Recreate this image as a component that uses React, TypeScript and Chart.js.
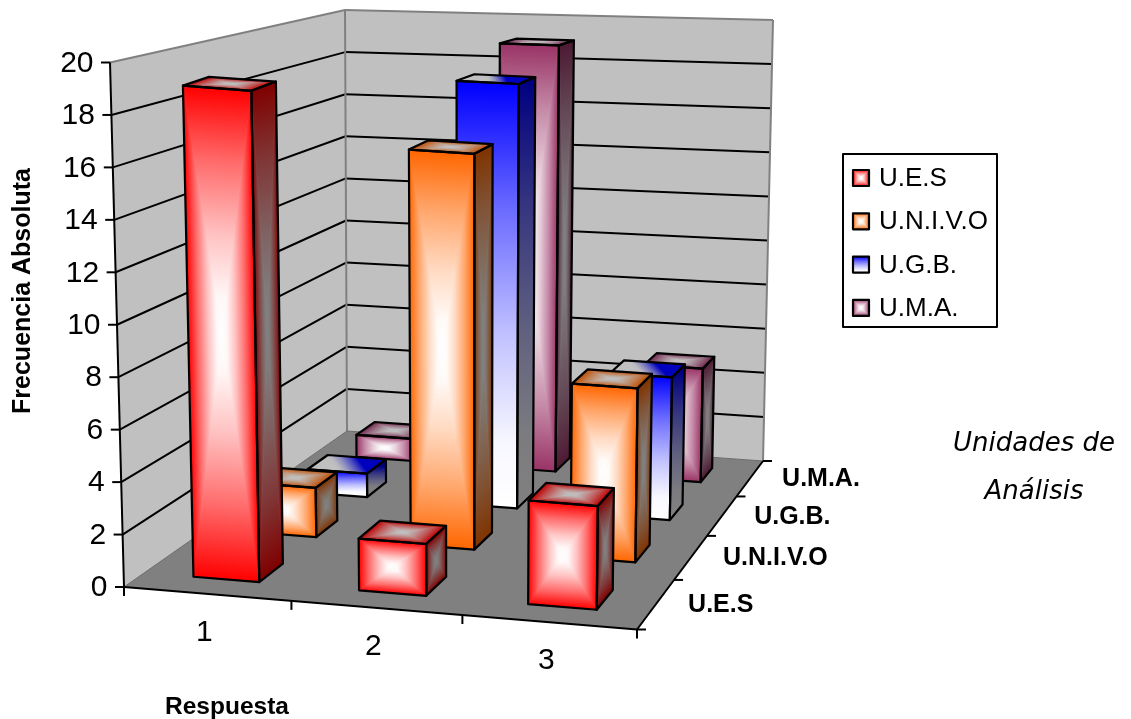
import React, { useEffect, useRef } from "react";
import { Chart, registerables } from "chart.js";

Chart.register(...registerables);

const categories = ["1", "2", "3"];
const seriesNames = ["U.E.S", "U.N.I.V.O", "U.G.B.", "U.M.A."];
const uesValues = [19, 2, 4];
const univoValues = [2, 16, 7];
const ugbValues = [1, 18, 6];
const umaValues = [1, 19, 5];
const seriesColors = ["#FF0000", "#FF6600", "#0000FF", "#993366"];
const seriesGradient = ["center", "center", "linear", "center"];
const yTitle = "Frecuencia Absoluta";
const xTitle = "Respuesta";
const zTitle = ["Unidades de", "Análisis"];

type P = [number, number];

// Plot geometry of the box: corners of its floor and the rise from floor to top at each corner
const FLOOR: P[] = [[124, 587], [637, 629.5], [763, 461], [347, 431]];
const RISE: P[] = [[-14, -524.5], [7, -525], [10, -441], [-2, -421]];

function homography(q: P[]) {
  const [p00, p10, p11, p01] = q;
  const dx1 = p10[0] - p11[0], dx2 = p01[0] - p11[0], sx = p00[0] - p10[0] + p11[0] - p01[0];
  const dy1 = p10[1] - p11[1], dy2 = p01[1] - p11[1], sy = p00[1] - p10[1] + p11[1] - p01[1];
  const den = dx1 * dy2 - dx2 * dy1;
  const g = (sx * dy2 - dx2 * sy) / den;
  const h = (dx1 * sy - sx * dy1) / den;
  const a = p10[0] - p00[0] + g * p10[0], b = p01[0] - p00[0] + h * p01[0], c = p00[0];
  const d = p10[1] - p00[1] + g * p10[1], e = p01[1] - p00[1] + h * p01[1], f = p00[1];
  return (X: number, Z: number): P => {
    const w = g * X + h * Z + 1;
    return [(a * X + b * Z + c) / w, (d * X + e * Z + f) / w];
  };
}

const floorMap = homography(FLOOR);
const project = (X: number, Y: number, Z: number): P => {
  const a = floorMap(X, Z);
  const rise = (k: number) =>
    (1 - X) * (1 - Z) * RISE[0][k] + X * (1 - Z) * RISE[1][k] + X * Z * RISE[2][k] + (1 - X) * Z * RISE[3][k];
  return [a[0] + rise(0) * Y, a[1] + rise(1) * Y];
};

function shade(hex: string, k: number) {
  const n = parseInt(hex.slice(1), 16);
  const ch = (s: number) => Math.round(((n >> s) & 255) * k);
  return `rgb(${ch(16)},${ch(8)},${ch(0)})`;
}

function mix(c0: string, c1: string, t: number) {
  const parse = (c: string) => {
    const m = c.match(/\d+/g);
    if (c.startsWith("rgb") && m) return m.map(Number);
    const n = parseInt(c.slice(1), 16);
    return [(n >> 16) & 255, (n >> 8) & 255, n & 255];
  };
  const a = parse(c0), b = parse(c1);
  return `rgb(${a.map((v, i) => Math.round(v + (b[i] - v) * t)).join(",")})`;
}

function poly(ctx: CanvasRenderingContext2D, pts: P[]) {
  ctx.beginPath();
  pts.forEach((p, i) => (i ? ctx.lineTo(p[0], p[1]) : ctx.moveTo(p[0], p[1])));
  ctx.closePath();
}

function line(ctx: CanvasRenderingContext2D, a: P, b: P, color: string, width: number) {
  ctx.strokeStyle = color;
  ctx.lineWidth = width;
  ctx.beginPath();
  ctx.moveTo(a[0], a[1]);
  ctx.lineTo(b[0], b[1]);
  ctx.stroke();
}

function stops(gr: CanvasGradient, c0: string, c1: string) {
  gr.addColorStop(0, c0);
  gr.addColorStop(0.3, mix(c0, c1, 0.42));
  gr.addColorStop(0.6, mix(c0, c1, 0.76));
  gr.addColorStop(0.85, mix(c0, c1, 0.97));
  gr.addColorStop(1, c1);
}

// rectangular "from centre" fill: edge colour at the border, centre colour in the middle
function centerFill(ctx: CanvasRenderingContext2D, q: P[], edge: string, center: string) {
  const m: P = [q.reduce((s, p) => s + p[0], 0) / 4, q.reduce((s, p) => s + p[1], 0) / 4];
  ctx.save();
  poly(ctx, q);
  ctx.clip();
  for (let i = 0; i < 4; i++) {
    const a = q[i], b = q[(i + 1) % 4];
    const dx = b[0] - a[0], dy = b[1] - a[1];
    const t = ((m[0] - a[0]) * dx + (m[1] - a[1]) * dy) / (dx * dx + dy * dy);
    const foot: P = [a[0] + t * dx, a[1] + t * dy];
    const gr = ctx.createLinearGradient(foot[0], foot[1], m[0], m[1]);
    stops(gr, edge, center);
    ctx.fillStyle = gr;
    ctx.strokeStyle = gr;
    ctx.lineWidth = 0.8;
    poly(ctx, [m, a, b]);
    ctx.fill();
    ctx.stroke();
  }
  ctx.restore();
}

// gradient running across the quad, from its first edge (q0-q1) to its opposite edge (q3-q2)
function linearFill(ctx: CanvasRenderingContext2D, q: P[], c0: string, c1: string) {
  const from: P = [(q[0][0] + q[1][0]) / 2, (q[0][1] + q[1][1]) / 2];
  const to: P = [(q[2][0] + q[3][0]) / 2, (q[2][1] + q[3][1]) / 2];
  const gr = ctx.createLinearGradient(from[0], from[1], to[0], to[1]);
  stops(gr, c0, c1);
  ctx.fillStyle = gr;
  poly(ctx, q);
  ctx.fill();
}

function outline(ctx: CanvasRenderingContext2D, q: P[]) {
  poly(ctx, q);
  ctx.strokeStyle = "#000";
  ctx.lineWidth = 2.2;
  ctx.lineJoin = "round";
  ctx.stroke();
}

function drawBox(ctx: CanvasRenderingContext2D, x0: number, x1: number, z0: number, z1: number, t: number, color: string, kind: string) {
  const front: P[] = [project(x0, t, z0), project(x1, t, z0), project(x1, 0, z0), project(x0, 0, z0)];
  const side: P[] = [project(x1, t, z0), project(x1, t, z1), project(x1, 0, z1), project(x1, 0, z0)];
  const top: P[] = [project(x0, t, z1), project(x1, t, z1), project(x1, t, z0), project(x0, t, z0)];
  if (kind === "center") {
    centerFill(ctx, top, shade(color, 0.75), "#C0C0C0");
    centerFill(ctx, side, shade(color, 0.5), "#808080");
    centerFill(ctx, front, color, "#FFFFFF");
  } else {
    linearFill(ctx, top, shade(color, 0.75), "#C0C0C0");
    linearFill(ctx, side, shade(color, 0.5), "#808080");
    linearFill(ctx, front, color, "#FFFFFF");
  }
  outline(ctx, top);
  outline(ctx, side);
  outline(ctx, front);
}

function text(ctx: CanvasRenderingContext2D, s: string, x: number, y: number, font: string, align: CanvasTextAlign = "center") {
  ctx.fillStyle = "#000";
  ctx.font = font;
  ctx.textAlign = align;
  ctx.textBaseline = "middle";
  ctx.fillText(s, x, y);
}

const scene3d = {
  id: "scene3d",
  beforeDatasetsDraw(chart: any) {
    const ctx: CanvasRenderingContext2D = chart.ctx;
    const xs = chart.scales.x, ys = chart.scales.y, zs = chart.scales.z;
    const yDec = (v: number) => (ys.bottom - ys.getPixelForValue(v)) / ys.height;
    const xDec = (i: number) => (xs.getPixelForValue(i) - xs.left) / xs.width;
    const zDec = (i: number) => (zs.getPixelForValue(i) - zs.left) / zs.width;
    const nCat = xs.getLabels().length;
    const nSer = zs.getLabels().length;
    ctx.save();

    // walls and floor
    ctx.fillStyle = "#C0C0C0";
    poly(ctx, [project(0, 1, 0), project(0, 1, 1), project(0, 0, 1), project(0, 0, 0)]);
    ctx.fill();
    poly(ctx, [project(0, 1, 1), project(1, 1, 1), project(1, 0, 1), project(0, 0, 1)]);
    ctx.fill();
    ctx.fillStyle = "#808080";
    poly(ctx, [project(0, 0, 0), project(1, 0, 0), project(1, 0, 1), project(0, 0, 1)]);
    ctx.fill();

    // grid lines
    ys.ticks.forEach((t: any) => {
      const d = yDec(t.value);
      if (d > 0 && d < 1) {
        line(ctx, project(0, d, 0), project(0, d, 1), "#000", 2);
        line(ctx, project(0, d, 1), project(1, d, 1), "#000", 2);
      }
    });
    const G = "#808080";
    line(ctx, project(0, 1, 0), project(0, 1, 1), G, 2);
    line(ctx, project(0, 1, 1), project(1, 1, 1), G, 2);
    line(ctx, project(0, 1, 1), project(0, 0, 1), G, 2);
    line(ctx, project(1, 1, 1), project(1, 0, 1), G, 2);
    line(ctx, project(0, 0, 0), project(0, 0, 1), "#6a6a6a", 1);
    line(ctx, project(0, 0, 1), project(1, 0, 1), "#6a6a6a", 1);

    // axes
    line(ctx, project(0, 0, 0), project(0, 1, 0), "#000", 2);
    line(ctx, project(0, 0, 0), project(1, 0, 0), "#000", 2);
    line(ctx, project(1, 0, 0), project(1, 0, 1), "#000", 2);
    ys.ticks.forEach((t: any) => {
      const p = project(0, yDec(t.value), 0);
      line(ctx, p, [p[0] - 9, p[1]], "#000", 2);
      text(ctx, String(t.label), p[0] - 16.5, p[1] + 1, "30px 'Liberation Sans'", "right");
    });
    for (let i = 0; i <= nCat; i++) {
      const p = project(i / nCat, 0, 0);
      line(ctx, p, [p[0], p[1] + 9], "#000", 2);
    }
    for (let i = 0; i <= nSer; i++) {
      const p = project(1, 0, i / nSer);
      line(ctx, p, [p[0] + 9, p[1]], "#000", 2);
    }
    categories.forEach((c, i) => {
      const p = project(xDec(i), 0, 0);
      text(ctx, xs.getLabelForValue(i) ?? c, p[0] - 3, p[1] + 39, "30px 'Liberation Sans'");
    });
    zs.getLabels().forEach((s: string, i: number) => {
      const p = project(1, 0, zDec(i));
      text(ctx, s, p[0] + 32, p[1] + 1, "bold 25px 'Liberation Sans'", "left");
    });

    // bars, back row first
    for (let di = chart.data.datasets.length - 1; di >= 0; di--) {
      const ds = chart.data.datasets[di];
      const zc = zDec(di), zh = 0.4 / nSer / 2;
      ds.data.forEach((v: number, i: number) => {
        const xc = xDec(i), xh = 0.4 / nCat / 2;
        drawBox(ctx, xc - xh, xc + xh, zc - zh, zc + zh, yDec(v), ds.borderColor, seriesGradient[di]);
      });
    }

    // legend
    ctx.strokeStyle = "#000";
    ctx.lineWidth = 2;
    ctx.strokeRect(843, 154, 154, 173);
    chart.data.datasets.forEach((ds: any, di: number) => {
      const y = 170 + di * 43.3;
      const sw: P[] = [[853, y], [869, y], [869, y + 16], [853, y + 16]];
      if (seriesGradient[di] === "center") centerFill(ctx, sw, ds.borderColor, "#FFFFFF");
      else linearFill(ctx, sw, ds.borderColor, "#FFFFFF");
      outline(ctx, sw);
      text(ctx, ds.label, 879, y + 9, "26px 'Liberation Sans'", "left");
    });

    // titles
    ctx.save();
    ctx.translate(23, 291);
    ctx.rotate(-Math.PI / 2);
    text(ctx, yTitle, 0, 0, "bold 25px 'Liberation Sans'");
    ctx.restore();
    text(ctx, xTitle, 227, 707, "bold 24.5px 'Liberation Sans'");
    text(ctx, zTitle[0], 1034, 444, "italic 26px 'DejaVu Sans'");
    text(ctx, zTitle[1], 1034, 492, "italic 26px 'DejaVu Sans'");

    ctx.restore();
    return false;
  },
};

export default function App() {
  const ref = useRef<HTMLCanvasElement>(null);
  useEffect(() => {
    const series = [uesValues, univoValues, ugbValues, umaValues];
    const chart = new Chart(ref.current!, {
      type: "bar",
      data: {
        labels: categories,
        datasets: seriesNames.map((label, i) => ({
          label,
          data: series[i],
          backgroundColor: seriesColors[i],
          borderColor: seriesColors[i],
        })),
      },
      options: {
        animation: false,
        responsive: false,
        events: [],
        layout: { padding: { left: 124, right: 1131 - 637, top: 60, bottom: 719 - 587 } },
        plugins: { legend: { display: false }, tooltip: { enabled: false } },
        scales: {
          x: { display: false },
          y: { display: false, min: 0, max: 20, ticks: { stepSize: 2 } },
          z: { type: "category", labels: seriesNames, axis: "x", position: "bottom", display: false, offset: true },
        },
      } as any,
      plugins: [scene3d as any],
    });
    return () => chart.destroy();
  }, []);
  return (
    <div style={{ position: "fixed", left: 0, top: 0, width: 1131, height: 719, background: "#fff" }}>
      <canvas ref={ref} width={1131} height={719} style={{ display: "block" }} />
    </div>
  );
}
